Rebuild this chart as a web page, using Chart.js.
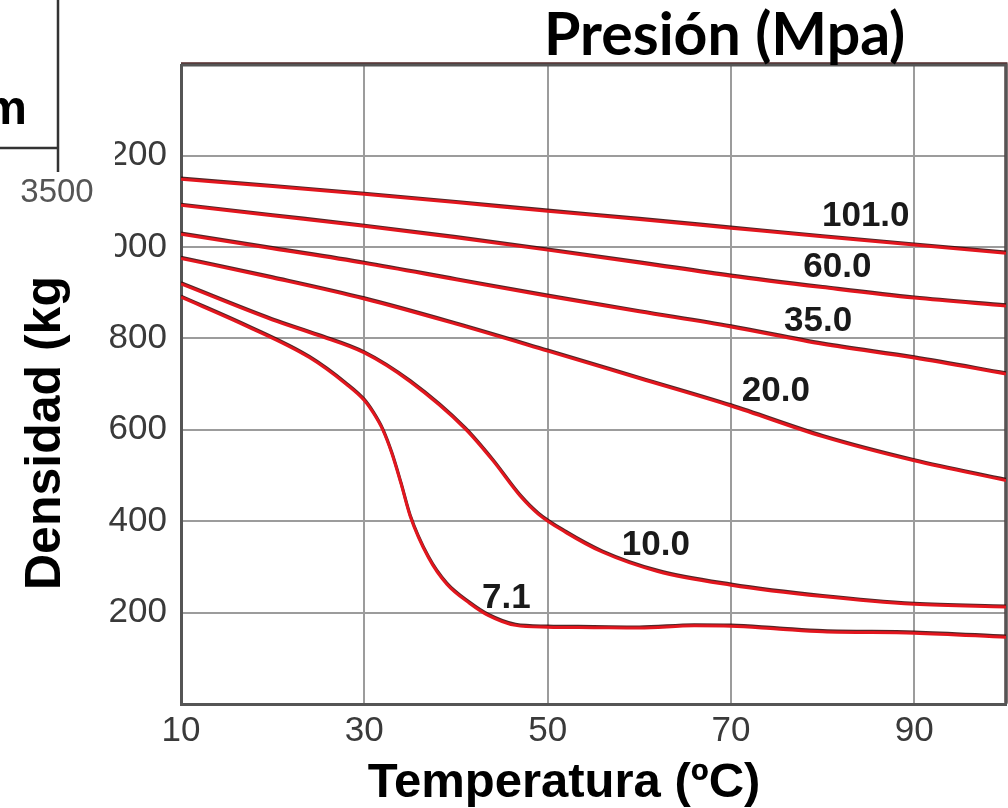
<!DOCTYPE html>
<html>
<head>
<meta charset="utf-8">
<script src="https://cdn.jsdelivr.net/npm/chart.js@4.4.1/dist/chart.umd.min.js"></script>
<style>
  html, body { margin: 0; padding: 0; background: #fff; }
  canvas { display: block; }
</style>
</head>
<body>
<canvas id="densChart" width="1008" height="808"></canvas>
<script>
// --- datos (densidad vs temperatura, por presión) ---
const tempsBase = [10, 20, 30, 40, 50, 60, 70, 80, 90, 100];
const dens101 = [1148, 1132, 1115, 1097, 1078, 1060, 1041, 1022, 1004, 986];
const dens60  = [1091, 1068, 1045, 1020, 993, 965, 936, 911, 888, 871];
const dens35  = [1028, 996, 964, 928, 892, 858, 825, 787, 757, 722];
const dens20  = [975, 932, 886, 831, 772, 712, 652, 585, 532, 489];

const temps10 = [10, 20, 25, 30, 35, 41, 44, 47, 49, 52, 56, 62, 70, 80, 90, 100];
const dens10  = [919, 840, 806, 768, 705, 602, 533, 455, 415, 375, 332, 290, 260, 235, 218, 212];

const temps71 = [10, 17, 24, 28, 30, 31, 32, 33, 34, 35, 37, 39, 41.5, 43.5, 46.5, 50, 55, 60, 66, 70, 75, 80, 90, 100];
const dens71  = [890, 828, 758, 700, 664, 636, 600, 548, 482, 411, 320, 262, 220, 194, 172, 168, 167, 166, 171, 170, 164, 158, 155, 146];

const pressures  = ['101.0', '60.0', '35.0', '20.0', '10.0', '7.1'];
const labelTemps = [84.7, 81.6, 79.5, 74.9, 61.8, 45.5];
const labelDens  = [1067, 956, 838, 685, 347, 231];

const xTicks = [10, 30, 50, 70, 90];
const yTicks = [200, 400, 600, 800, 1000, 1200];

// arma pares {x, y}
function pts(xs, ys) {
    return xs.map((t, i) => ({ x: t, y: ys[i] }));
}

const RED = '#e3161e';
function serie(data) {
    return {
        data: data,
        borderColor: RED,
        borderWidth: 3,
        pointRadius: 0,
        fill: false,
        cubicInterpolationMode: 'monotone'
    };
}

// borde oscuro de las curvas (como en el escaneo)
const edgePlugin = {
    id: 'edge',
    beforeDatasetsDraw(chart) {
        const c = chart.ctx;
        c.save();
        c.shadowColor = 'rgba(50,0,0,0.85)';
        c.shadowOffsetX = 0;
        c.shadowOffsetY = -1.2;
        c.shadowBlur = 0;
    },
    afterDatasetsDraw(chart) {
        chart.ctx.restore();
    }
};

// marco superior/derecho, etiquetas de presión, títulos y recorte de la izquierda
const decorPlugin = {
    id: 'decor',
    beforeDatasetsDraw(chart) {
        const c = chart.ctx, a = chart.chartArea;
        c.save();
        c.strokeStyle = '#555';
        c.lineWidth = 3;
        c.beginPath();
        c.moveTo(a.left, a.top);
        c.lineTo(a.right, a.top);
        c.lineTo(a.right, a.bottom);
        c.stroke();
        c.restore();
    },
    afterDraw(chart) {
        const c = chart.ctx;
        const xs = chart.scales.x, ys = chart.scales.y;
        c.save();

        // etiquetas de cada curva
        c.fillStyle = '#1a1a1a';
        c.font = 'bold 35px "Liberation Sans", Arial, sans-serif';
        c.textAlign = 'center';
        c.textBaseline = 'middle';
        pressures.forEach((p, i) => {
            c.fillText(p, xs.getPixelForValue(labelTemps[i]), ys.getPixelForValue(labelDens[i]));
        });

        // título superior
        c.fillStyle = '#000';
        c.textAlign = 'left';
        c.textBaseline = 'alphabetic';
        c.font = 'bold 59px Lato, "Open Sans", sans-serif';
        c.fillText('Presión (Mpa)', 544, 55);

        // eje X
        c.textAlign = 'center';
        c.font = 'bold 49px "Liberation Sans", Arial, sans-serif';
        c.fillText('Temperatura (ºC)', 564, 797);

        // eje Y
        c.save();
        c.translate(60, 590);
        c.rotate(-Math.PI / 2);
        c.textAlign = 'left';
        c.font = 'bold 50px "Liberation Sans", Arial, sans-serif';
        c.fillText('Densidad (kg/m³)', 0, 0);
        c.restore();

        // trozo de la otra figura que tapa la esquina
        c.fillStyle = '#fff';
        c.fillRect(0, 0, 115, 277);
        c.strokeStyle = '#333';
        c.lineWidth = 2.5;
        c.beginPath();
        c.moveTo(58, 0);
        c.lineTo(58, 172);
        c.moveTo(0, 148);
        c.lineTo(58, 148);
        c.stroke();
        c.fillStyle = '#000';
        c.textAlign = 'right';
        c.font = 'bold 48px "Liberation Sans", Arial, sans-serif';
        c.fillText('m', 27, 124);
        c.fillStyle = '#555';
        c.textAlign = 'center';
        c.font = '33px "Liberation Sans", Arial, sans-serif';
        c.fillText('3500', 57, 202);

        c.restore();
    }
};

const ctx = document.getElementById('densChart').getContext('2d');
new Chart(ctx, {
    type: 'line',
    data: {
        datasets: [
            serie(pts(tempsBase, dens101)),
            serie(pts(tempsBase, dens60)),
            serie(pts(tempsBase, dens35)),
            serie(pts(tempsBase, dens20)),
            serie(pts(temps10, dens10)),
            serie(pts(temps71, dens71))
        ]
    },
    options: {
        responsive: false,
        animation: false,
        devicePixelRatio: 1,
        layout: { padding: { top: 65, right: 2, left: 0, bottom: 0 } },
        plugins: {
            legend: { display: false },
            tooltip: { enabled: false }
        },
        scales: {
            x: {
                type: 'linear',
                min: 10, max: 100,
                afterBuildTicks: s => { s.ticks = xTicks.map(v => ({ value: v })); },
                afterFit: s => { s.height = 104; },
                grid: { color: '#9c9c9c', lineWidth: 2, drawTicks: false },
                border: { color: '#555', width: 3 },
                ticks: {
                    color: '#3a3a3a',
                    padding: 6,
                    maxRotation: 0,
                    font: { family: '"Liberation Sans", Arial, sans-serif', size: 35 }
                }
            },
            y: {
                type: 'linear',
                min: 0, max: 1398,
                afterBuildTicks: s => { s.ticks = yTicks.map(v => ({ value: v })); },
                afterFit: s => { s.width = 181; },
                grid: { color: '#9c9c9c', lineWidth: 2, drawTicks: false },
                border: { color: '#555', width: 3 },
                ticks: {
                    color: '#3a3a3a',
                    padding: 14,
                    font: { family: '"Liberation Sans", Arial, sans-serif', size: 35 }
                }
            }
        }
    },
    plugins: [edgePlugin, decorPlugin]
});
</script>
</body>
</html>
